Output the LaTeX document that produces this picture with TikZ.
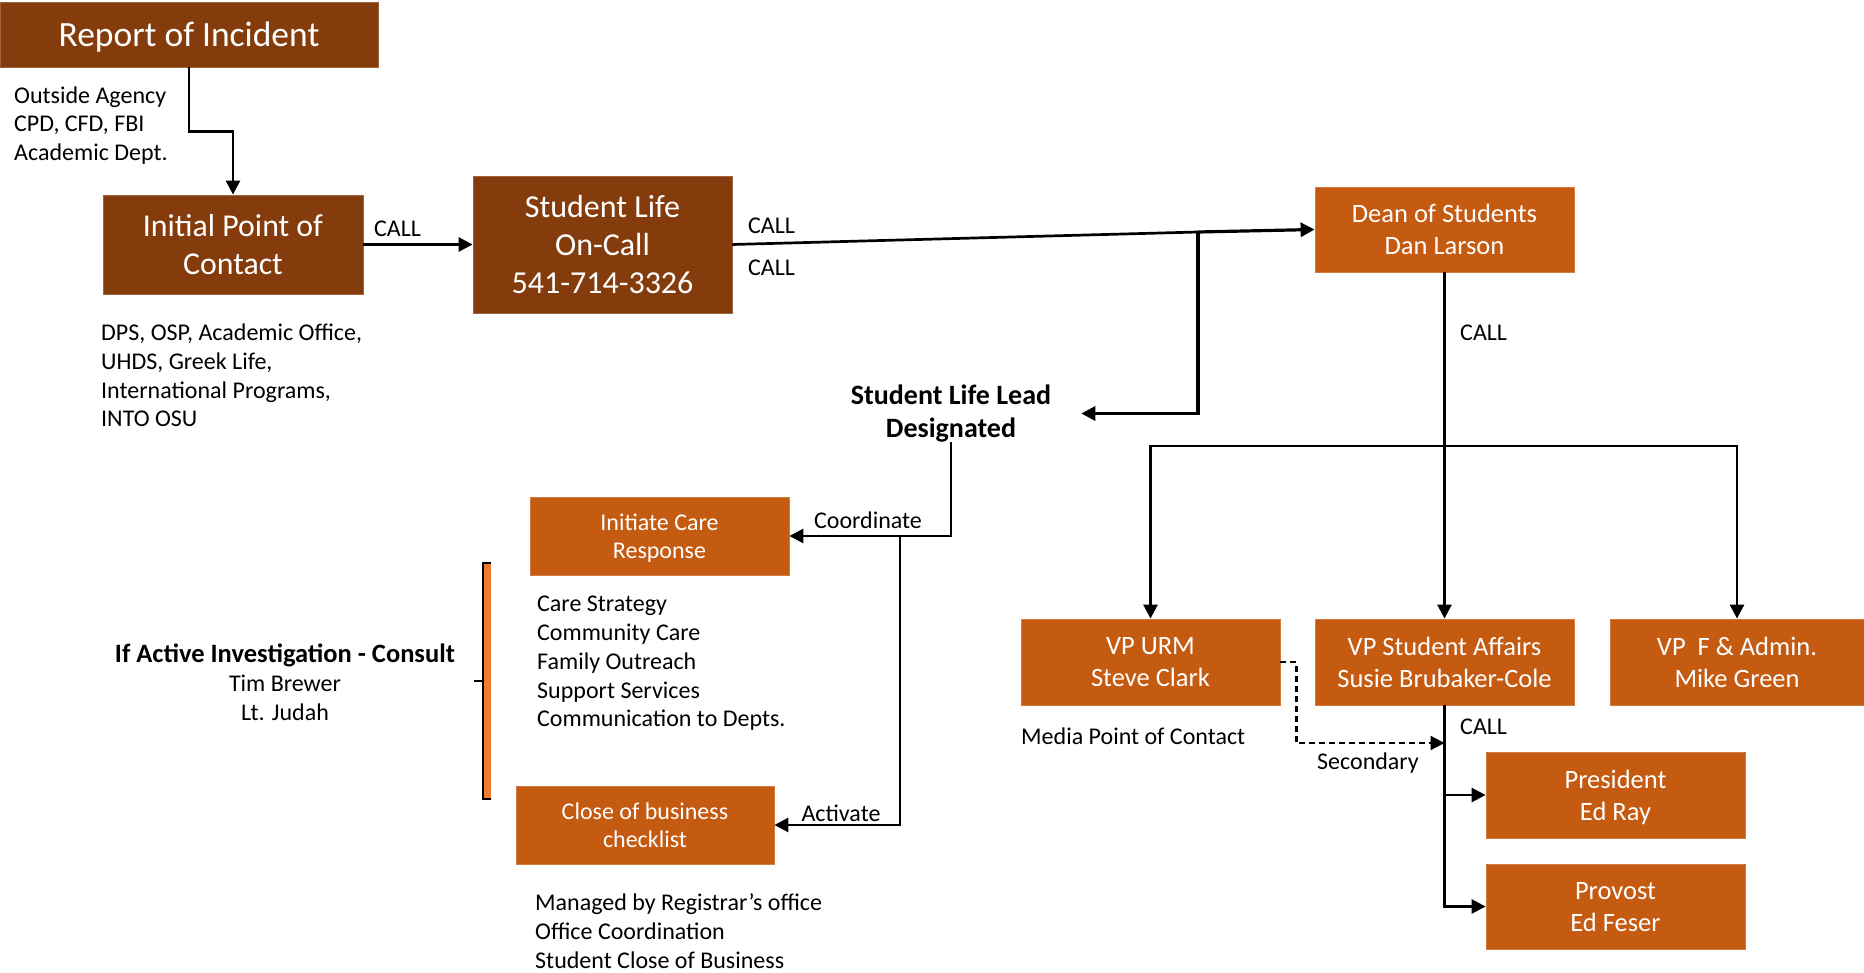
\documentclass[tikz,border=0pt]{standalone}
\usepackage{fontspec}
\setmainfont{Carlito}
\usetikzlibrary{arrows.meta,calc}
\definecolor{brownD}{HTML}{843C0C}
\definecolor{orangeB}{HTML}{C55A11}
\definecolor{orangeL}{HTML}{ED7D31}
\begin{document}
\begin{tikzpicture}[x=1pt,y=-1pt,
  darkbox/.style={fill=brownD,text=white,inner sep=0pt,align=center,draw=brownD!80!white,line width=0.8pt,text depth=0pt},
  obox/.style={fill=orangeB,text=white,inner sep=0pt,align=center,draw=orangeB!80!white,line width=0.8pt,text depth=0pt,
     font=\fontsize{26.5}{32}\selectfont,minimum width=259pt,minimum height=86pt},
  cbox/.style={fill=orangeB,text=white,inner sep=0pt,align=center,draw=orangeB!80!white,line width=0.8pt,text depth=0pt,
     font=\fontsize{24}{28.5}\selectfont,minimum width=259pt,minimum height=78pt},
  lbl/.style={inner sep=0pt,anchor=west,font=\fontsize{24}{28.5}\selectfont},
  txt/.style={inner sep=0pt,anchor=west,align=left,font=\fontsize{24}{28.7}\selectfont},
  arr/.style={line width=2.7pt,-{Triangle[length=14pt,width=14pt]}},
  dasharr/.style={line width=2.2pt,dashed,dash pattern=on 6pt off 4pt,-{Triangle[length=14pt,width=14pt]}}
]
\useasboundingbox (0,0) rectangle (1864,973);

% boxes
\node[darkbox,minimum width=378pt,minimum height=65pt,font=\fontsize{35.5}{42}\selectfont] (report) at (189,34.5) {Report of Incident};
\node[darkbox,minimum width=260pt,minimum height=99pt,font=\fontsize{31.8}{38}\selectfont] (init) at (233,244.5) {Initial Point of\\Contact};
\node[darkbox,minimum width=259pt,minimum height=137pt,font=\fontsize{32}{38}\selectfont] (sl) at (602.5,244.5) {Student Life\\On-Call\\541-714-3326};
\node[obox,minimum height=85pt] (dean) at (1444.5,229.5) {Dean of Students\\Dan Larson};
\node[obox] (vpurm) at (1150.5,662) {VP URM\\Steve Clark};
\node[obox] (vpsa) at (1444.5,662) {VP Student Affairs\\Susie Brubaker-Cole};
\node[obox,minimum width=254pt] (vpf) at (1737,662) {VP\ \ F \& Admin.\\Mike Green};
\node[obox] (pres) at (1615.5,795) {President\\Ed Ray};
\node[obox,minimum height=85pt] (prov) at (1615.5,906.5) {Provost\\Ed Feser};
\node[cbox] (care) at (659.5,536) {Initiate Care\\Response};
\node[cbox,minimum width=258pt] (close) at (645,825) {Close of business\\checklist};

% texts
\node[txt,font=\fontsize{24}{28.5}\selectfont] (outside) at (14,125.5) {Outside Agency\\CPD, CFD, FBI\\Academic Dept.};
\node[txt] (dps) at (101,375.5) {DPS, OSP, Academic Office,\\UHDS, Greek Life,\\International Programs,\\INTO OSU};
\node[inner sep=0pt,align=center,font=\fontsize{28}{33}\selectfont\bfseries] (lead) at (951,413.5) {Student Life Lead\\Designated};
\node[txt] (caretxt) at (537,663.5) {Care Strategy\\Community Care\\Family Outreach\\Support Services\\Communication to Depts.};
\node[txt] (managed) at (535,931) {Managed by Registrar’s office\\Office Coordination\\Student Close of Business};
\node[inner sep=0pt,align=center,font=\fontsize{24}{29}\selectfont] (inv) at (285,682) {{\fontsize{26.5}{29}\selectfont\bfseries If Active Investigation - Consult}\\Tim Brewer\\Lt. Judah};
\node[lbl] (media) at (1021,736) {Media Point of Contact};
\node[lbl] (secondary) at (1317,763) {Secondary};
\node[lbl] (call1) at (374,229) {CALL};
\node[lbl] (call2) at (748,226) {CALL};
\node[lbl] (call3) at (748,268) {CALL};
\node[lbl] (call4) at (1460,333) {CALL};
\node[lbl] (call5) at (1460,727) {CALL};
\node[inner sep=0pt,font=\fontsize{24}{28.5}\selectfont] (coordlbl) at (868,520) {Coordinate};
\node[inner sep=0pt,font=\fontsize{24}{28.5}\selectfont] (actlbl) at (841,813) {Activate};

% bracket
\fill[orangeL] (483,563) rectangle (491,799);
\draw[line width=2pt] (491,563) -- (483,563) -- (483,799) -- (491,799);
\draw[line width=2pt] (474,681) -- (483,681);

% coordinates
\coordinate (j) at (1198,232);
\coordinate (br) at (1444.5,446);
\coordinate (cb) at (900,536);
\coordinate (sec) at (1444.5,743);

% connectors
\draw[arr] (report.south) -- ++(0,64) -| (init.north);
\draw[arr] (init.east) -- (sl.west);
\draw[line width=2.7pt] (sl.east) -- (j);
\draw[arr,line width=3.2pt] (j) -- (dean.west);
\draw[arr,line width=3.2pt] (j) |- ([xshift=30pt]lead.east);
\draw[arr] (lead.south) |- (care.east);
\draw[arr] (cb) |- (close.east);
\draw[arr] (dean.south) -- (vpsa.north);
\draw[arr] (br) -| (vpurm.north);
\draw[arr] (br) -| (vpf.north);
\draw[arr] (vpsa.south) |- (pres.west);
\draw[arr] (vpsa.south) |- (prov.west);
\draw[dasharr] (vpurm.east) -- ++(16,0) |- (sec);
\end{tikzpicture}
\end{document}
